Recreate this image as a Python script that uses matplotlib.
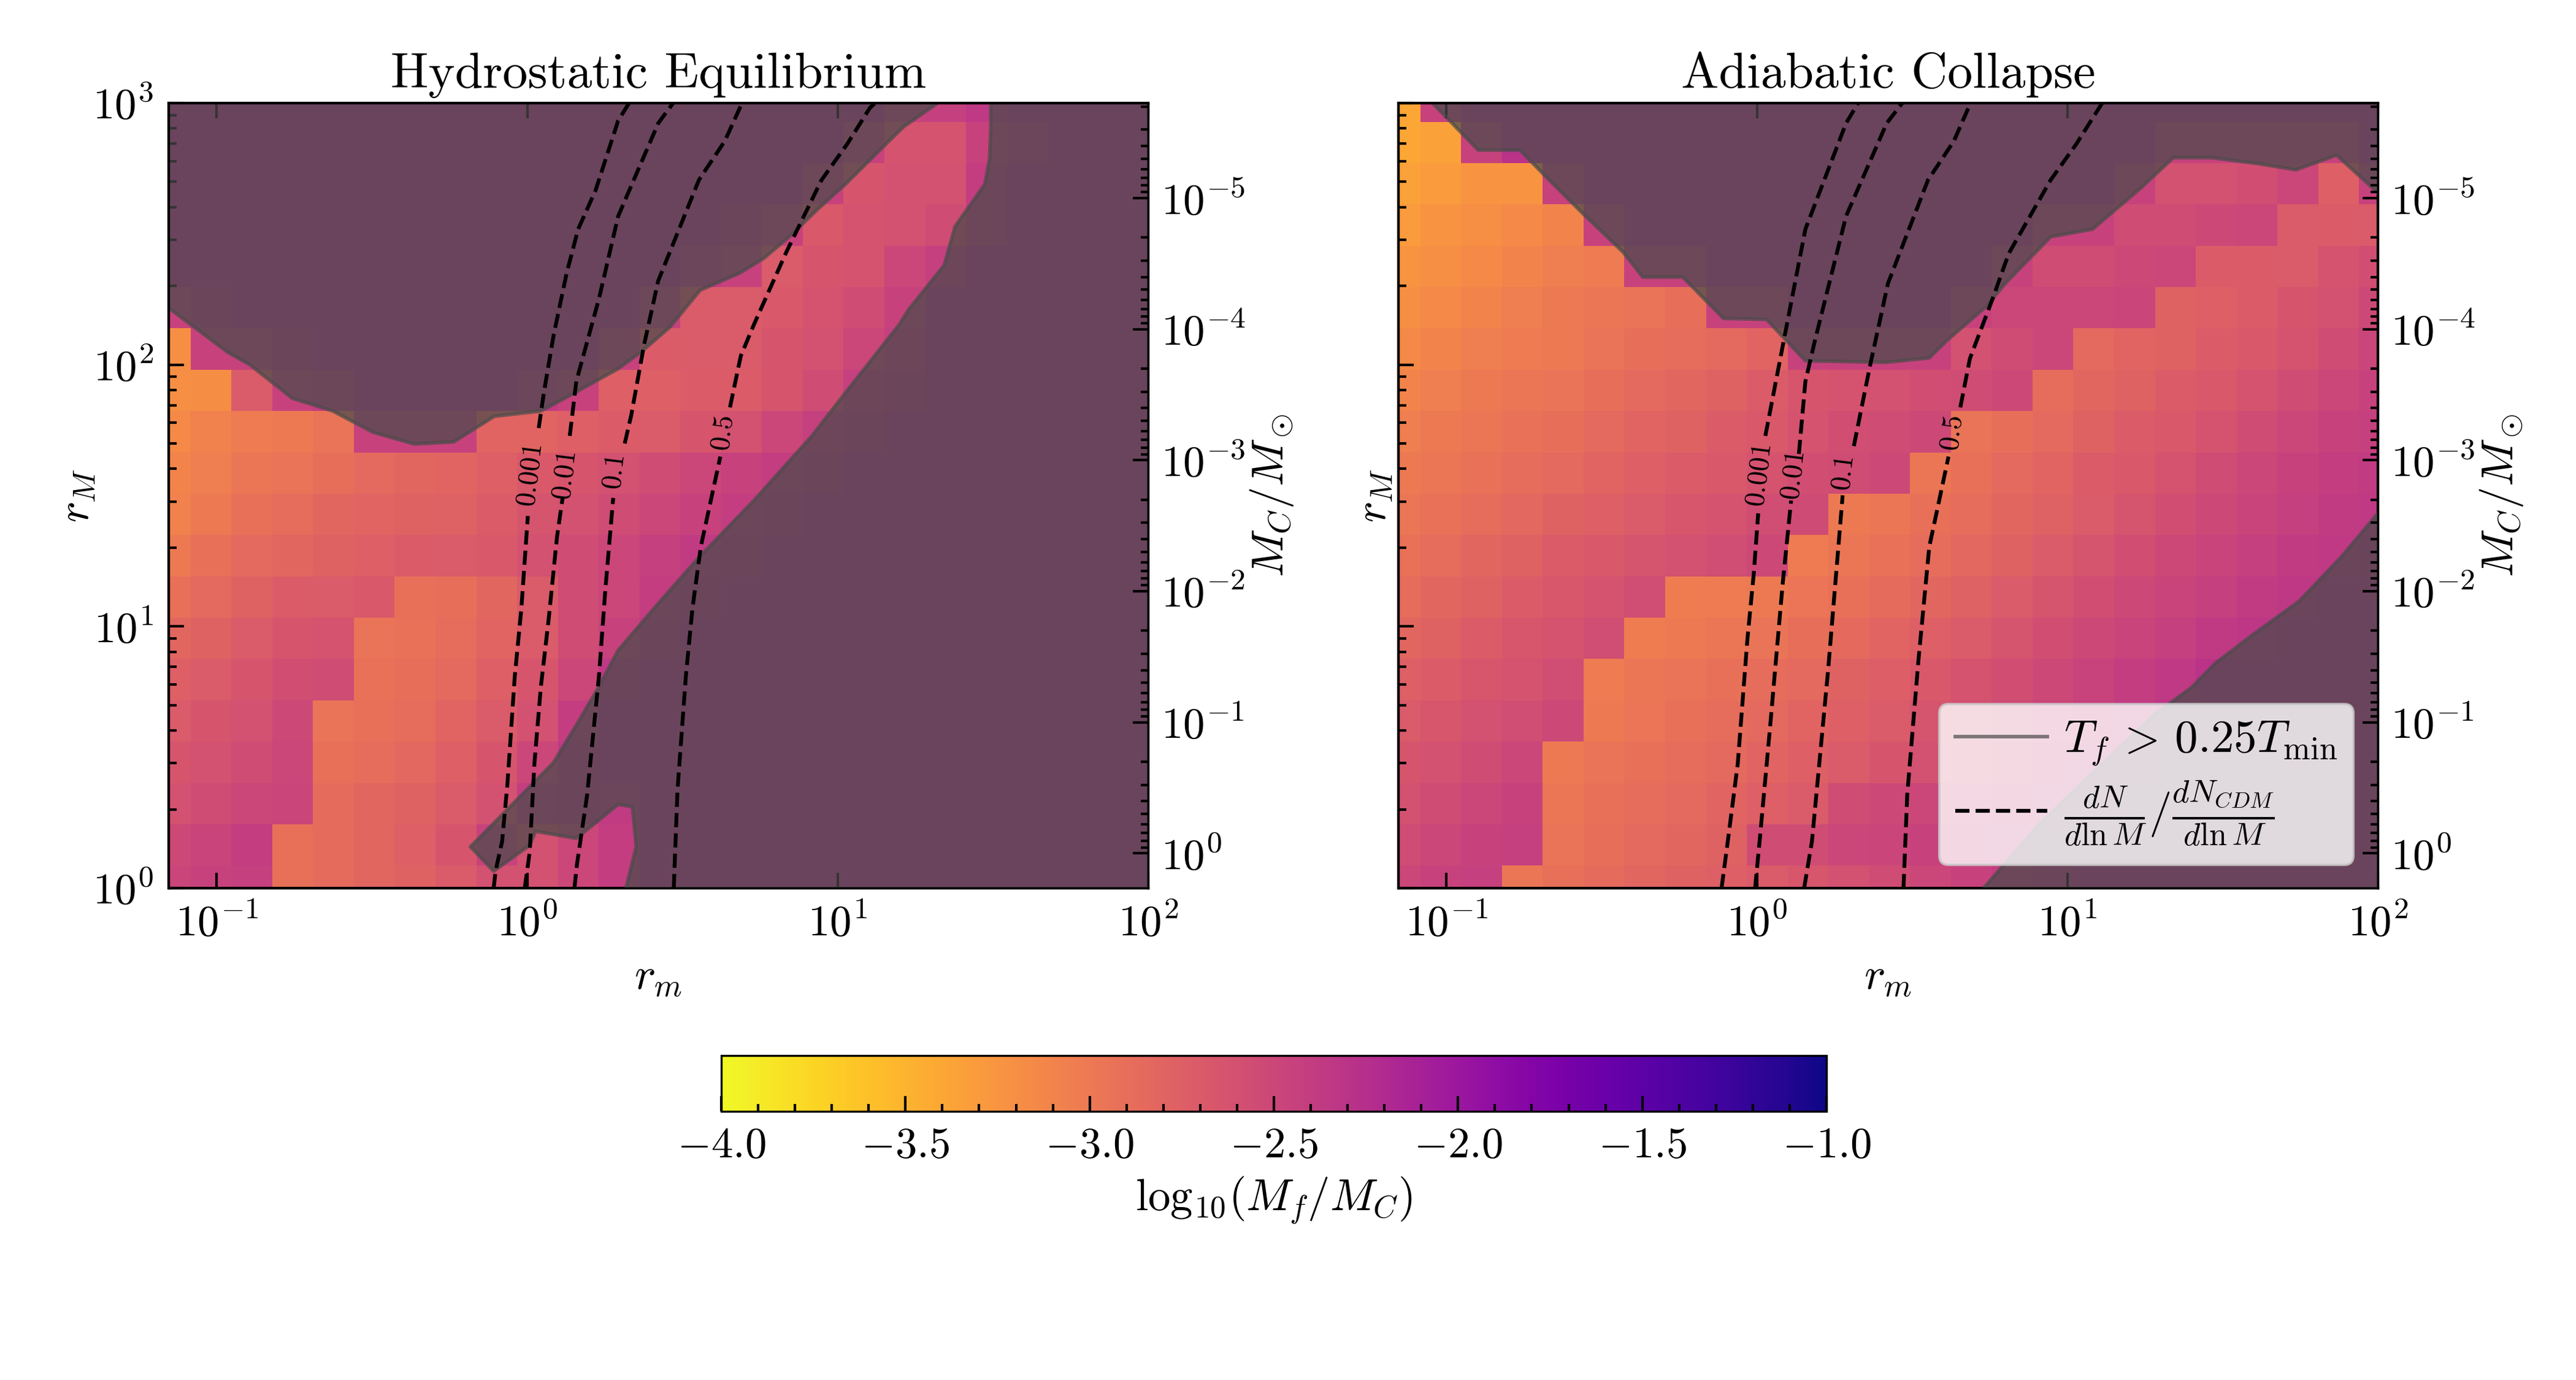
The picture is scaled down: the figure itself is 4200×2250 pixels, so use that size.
#!/usr/bin/env python
import numpy as np
import matplotlib
matplotlib.use('Agg')
import matplotlib.pyplot as plt
from matplotlib.lines import Line2D
from matplotlib.ticker import LogLocator, NullLocator, NullFormatter, MultipleLocator

plt.rcParams['font.family'] = ['cmr10', 'DejaVu Serif']
plt.rcParams['mathtext.fontset'] = 'cm'
plt.rcParams['axes.unicode_minus'] = False
plt.rcParams['axes.formatter.use_mathtext'] = True

# grid the mass fractions were sampled on
log_rm = np.linspace(np.log10(0.07), 2, 25)
log_rM = np.linspace(0, 3, 20)

# log10(M_f/M_C), top row (r_M = 1000) first
hydro_vals = [
    [-2.30,-2.30,-2.30,-2.30,-2.30,-2.30,-2.30,-2.30,-2.30,-2.30,-2.30,-2.30,-2.30,-2.30,-2.30,-2.30,-2.30,-2.30,-2.45,-2.42,-2.35,-2.30,-2.30,-2.30,-2.30],
    [-2.30,-2.30,-2.30,-2.30,-2.30,-2.30,-2.30,-2.30,-2.30,-2.30,-2.30,-2.30,-2.30,-2.30,-2.30,-2.30,-2.30,-2.45,-2.62,-2.62,-2.45,-2.38,-2.30,-2.30,-2.30],
    [-2.30,-2.30,-2.30,-2.30,-2.30,-2.30,-2.30,-2.30,-2.30,-2.30,-2.30,-2.30,-2.30,-2.30,-2.30,-2.30,-2.45,-2.65,-2.60,-2.60,-2.40,-2.30,-2.30,-2.30,-2.30],
    [-2.30,-2.30,-2.30,-2.30,-2.30,-2.30,-2.30,-2.30,-2.30,-2.30,-2.30,-2.30,-2.30,-2.30,-2.36,-2.45,-2.68,-2.62,-2.60,-2.55,-2.40,-2.30,-2.30,-2.30,-2.30],
    [-2.30,-2.30,-2.30,-2.30,-2.30,-2.30,-2.30,-2.30,-2.30,-2.30,-2.30,-2.30,-2.30,-2.38,-2.45,-2.70,-2.65,-2.62,-2.50,-2.42,-2.30,-2.30,-2.30,-2.30,-2.30],
    [-2.45,-2.36,-2.30,-2.30,-2.30,-2.30,-2.30,-2.30,-2.30,-2.30,-2.30,-2.30,-2.45,-2.70,-2.70,-2.68,-2.62,-2.55,-2.45,-2.30,-2.30,-2.30,-2.30,-2.30,-2.30],
    [-3.20,-2.45,-2.45,-2.36,-2.30,-2.30,-2.30,-2.30,-2.30,-2.30,-2.30,-2.45,-2.72,-2.70,-2.70,-2.65,-2.60,-2.50,-2.42,-2.30,-2.30,-2.30,-2.30,-2.30,-2.30],
    [-3.20,-3.18,-2.70,-2.45,-2.40,-2.30,-2.30,-2.30,-2.30,-2.38,-2.45,-2.75,-2.75,-2.72,-2.72,-2.65,-2.55,-2.42,-2.35,-2.30,-2.30,-2.30,-2.30,-2.30,-2.30],
    [-3.15,-3.08,-3.02,-3.00,-2.95,-2.45,-2.45,-2.45,-2.80,-2.80,-2.75,-2.72,-2.70,-2.65,-2.60,-2.50,-2.42,-2.35,-2.30,-2.30,-2.30,-2.30,-2.30,-2.30,-2.30],
    [-3.10,-3.05,-2.98,-2.95,-2.90,-2.85,-2.82,-2.80,-2.75,-2.68,-2.65,-2.60,-2.55,-2.50,-2.45,-2.40,-2.35,-2.30,-2.30,-2.30,-2.30,-2.30,-2.30,-2.30,-2.30],
    [-3.08,-3.00,-2.92,-2.88,-2.82,-2.80,-2.78,-2.76,-2.72,-2.64,-2.60,-2.55,-2.50,-2.45,-2.40,-2.35,-2.30,-2.30,-2.30,-2.30,-2.30,-2.30,-2.30,-2.30,-2.30],
    [-3.00,-2.92,-2.85,-2.82,-2.78,-2.75,-2.72,-2.70,-2.68,-2.60,-2.55,-2.50,-2.42,-2.38,-2.35,-2.30,-2.30,-2.30,-2.30,-2.30,-2.30,-2.30,-2.30,-2.30,-2.30],
    [-2.92,-2.85,-2.78,-2.72,-2.70,-2.68,-2.92,-2.90,-2.82,-2.70,-2.55,-2.50,-2.40,-2.35,-2.30,-2.30,-2.30,-2.30,-2.30,-2.30,-2.30,-2.30,-2.30,-2.30,-2.30],
    [-2.82,-2.78,-2.70,-2.65,-2.62,-2.95,-2.93,-2.88,-2.80,-2.70,-2.55,-2.45,-2.35,-2.30,-2.30,-2.30,-2.30,-2.30,-2.30,-2.30,-2.30,-2.30,-2.30,-2.30,-2.30],
    [-2.75,-2.70,-2.65,-2.58,-2.55,-2.93,-2.90,-2.85,-2.75,-2.65,-2.50,-2.35,-2.30,-2.30,-2.30,-2.30,-2.30,-2.30,-2.30,-2.30,-2.30,-2.30,-2.30,-2.30,-2.30],
    [-2.70,-2.65,-2.60,-2.52,-2.95,-2.92,-2.88,-2.80,-2.70,-2.60,-2.40,-2.30,-2.30,-2.30,-2.30,-2.30,-2.30,-2.30,-2.30,-2.30,-2.30,-2.30,-2.30,-2.30,-2.30],
    [-2.65,-2.60,-2.55,-2.50,-2.92,-2.88,-2.83,-2.75,-2.65,-2.50,-2.35,-2.30,-2.30,-2.30,-2.30,-2.30,-2.30,-2.30,-2.30,-2.30,-2.30,-2.30,-2.30,-2.30,-2.30],
    [-2.60,-2.55,-2.50,-2.48,-2.87,-2.82,-2.78,-2.70,-2.60,-2.40,-2.35,-2.38,-2.30,-2.30,-2.30,-2.30,-2.30,-2.30,-2.30,-2.30,-2.30,-2.30,-2.30,-2.30,-2.30],
    [-2.52,-2.47,-2.40,-2.92,-2.87,-2.82,-2.75,-2.65,-2.45,-2.60,-2.50,-2.40,-2.30,-2.30,-2.30,-2.30,-2.30,-2.30,-2.30,-2.30,-2.30,-2.30,-2.30,-2.30,-2.30],
    [-2.48,-2.45,-2.42,-2.92,-2.87,-2.82,-2.78,-2.70,-2.60,-2.60,-2.50,-2.40,-2.30,-2.30,-2.30,-2.30,-2.30,-2.30,-2.30,-2.30,-2.30,-2.30,-2.30,-2.30,-2.30],
]
adiabatic_vals = [
    [-3.40,-2.45,-2.30,-2.30,-2.30,-2.30,-2.30,-2.30,-2.30,-2.30,-2.30,-2.30,-2.30,-2.30,-2.30,-2.30,-2.30,-2.30,-2.30,-2.30,-2.30,-2.30,-2.30,-2.30,-2.30],
    [-3.40,-3.35,-2.45,-2.30,-2.30,-2.30,-2.30,-2.30,-2.30,-2.30,-2.30,-2.30,-2.30,-2.30,-2.30,-2.30,-2.30,-2.30,-2.30,-2.45,-2.45,-2.45,-2.45,-2.45,-2.30],
    [-3.35,-3.30,-3.25,-3.25,-2.45,-2.30,-2.30,-2.30,-2.30,-2.30,-2.30,-2.30,-2.30,-2.30,-2.30,-2.30,-2.30,-2.30,-2.45,-2.60,-2.60,-2.58,-2.50,-2.75,-2.45],
    [-3.30,-3.25,-3.20,-3.15,-3.10,-2.45,-2.30,-2.30,-2.30,-2.30,-2.30,-2.30,-2.30,-2.30,-2.30,-2.30,-2.45,-2.45,-2.55,-2.55,-2.52,-2.50,-2.70,-2.72,-2.70],
    [-3.25,-3.20,-3.15,-3.10,-3.05,-3.02,-2.45,-2.45,-2.30,-2.30,-2.30,-2.30,-2.30,-2.30,-2.30,-2.45,-2.55,-2.55,-2.52,-2.50,-2.72,-2.72,-2.70,-2.62,-2.58],
    [-3.20,-3.15,-3.10,-3.05,-3.00,-2.97,-2.95,-2.90,-2.45,-2.45,-2.30,-2.30,-2.30,-2.30,-2.45,-2.50,-2.50,-2.50,-2.48,-2.78,-2.75,-2.72,-2.65,-2.60,-2.52],
    [-3.15,-3.10,-3.05,-3.02,-3.00,-2.95,-2.90,-2.88,-2.85,-2.80,-2.45,-2.45,-2.45,-2.45,-2.60,-2.55,-2.50,-2.85,-2.80,-2.78,-2.72,-2.68,-2.62,-2.55,-2.48],
    [-3.10,-3.05,-3.00,-2.97,-2.95,-2.90,-2.85,-2.82,-2.78,-2.72,-2.65,-2.62,-2.60,-2.58,-2.55,-2.52,-2.88,-2.82,-2.78,-2.72,-2.68,-2.62,-2.55,-2.50,-2.45],
    [-3.05,-3.00,-2.97,-2.93,-2.90,-2.85,-2.80,-2.78,-2.72,-2.68,-2.62,-2.58,-2.55,-2.52,-2.95,-2.90,-2.85,-2.78,-2.72,-2.68,-2.62,-2.55,-2.50,-2.45,-2.42],
    [-3.00,-2.97,-2.93,-2.88,-2.85,-2.80,-2.75,-2.72,-2.68,-2.62,-2.58,-2.55,-2.52,-2.97,-2.92,-2.85,-2.80,-2.72,-2.68,-2.62,-2.55,-2.50,-2.45,-2.40,-2.38],
    [-2.97,-2.93,-2.88,-2.83,-2.78,-2.75,-2.70,-2.66,-2.62,-2.57,-2.54,-3.00,-2.98,-2.92,-2.88,-2.82,-2.76,-2.70,-2.64,-2.58,-2.52,-2.47,-2.42,-2.38,-2.35],
    [-2.93,-2.88,-2.82,-2.78,-2.72,-2.68,-2.64,-2.60,-2.56,-2.52,-3.02,-2.98,-2.93,-2.88,-2.83,-2.77,-2.70,-2.64,-2.58,-2.52,-2.47,-2.42,-2.38,-2.35,-2.32],
    [-2.88,-2.82,-2.78,-2.72,-2.67,-2.62,-2.56,-3.03,-3.02,-3.00,-2.96,-2.92,-2.87,-2.82,-2.76,-2.70,-2.64,-2.58,-2.52,-2.47,-2.42,-2.38,-2.34,-2.30,-2.30],
    [-2.82,-2.78,-2.72,-2.66,-2.62,-2.56,-3.03,-3.00,-2.97,-2.95,-2.90,-2.86,-2.80,-2.75,-2.70,-2.64,-2.58,-2.52,-2.47,-2.42,-2.37,-2.33,-2.30,-2.30,-2.30],
    [-2.75,-2.72,-2.66,-2.62,-2.56,-3.02,-2.98,-2.95,-2.92,-2.88,-2.84,-2.78,-2.74,-2.68,-2.62,-2.58,-2.52,-2.46,-2.40,-2.35,-2.30,-2.30,-2.30,-2.30,-2.30],
    [-2.70,-2.66,-2.60,-2.56,-2.52,-3.00,-2.96,-2.92,-2.88,-2.85,-2.80,-2.75,-2.70,-2.64,-2.58,-2.53,-2.47,-2.42,-2.37,-2.32,-2.30,-2.30,-2.30,-2.30,-2.30],
    [-2.65,-2.60,-2.55,-2.50,-3.00,-2.95,-2.92,-2.88,-2.84,-2.80,-2.75,-2.70,-2.65,-2.60,-2.55,-2.50,-2.45,-2.40,-2.35,-2.30,-2.30,-2.30,-2.30,-2.30,-2.30],
    [-2.60,-2.55,-2.50,-2.45,-2.97,-2.92,-2.88,-2.84,-2.80,-2.75,-2.70,-2.55,-2.52,-2.50,-2.47,-2.43,-2.40,-2.35,-2.30,-2.30,-2.30,-2.30,-2.30,-2.30,-2.30],
    [-2.55,-2.50,-2.45,-2.42,-2.95,-2.90,-2.85,-2.82,-2.78,-2.55,-2.55,-2.50,-2.48,-2.45,-2.42,-2.38,-2.33,-2.30,-2.30,-2.30,-2.30,-2.30,-2.30,-2.30,-2.30],
    [-2.50,-2.45,-2.42,-2.98,-2.92,-2.87,-2.82,-2.78,-2.75,-2.70,-2.66,-2.60,-2.55,-2.50,-2.45,-2.40,-2.35,-2.30,-2.30,-2.30,-2.30,-2.30,-2.30,-2.30,-2.30],
]

# T_f = 0.25 T_min boundaries, log10(r_m) and log10(r_M)
hydro_top_x = [-1.154,-1.083,-0.965,-0.892,-0.757,-0.626,-0.497,-0.364,-0.237,-0.106,0.044,0.158,0.293,0.366,0.459,0.557,0.684,0.761,0.844,0.938,1.025,1.156,1.212,1.322]
hydro_top_y = [2.216,2.153,2.048,1.999,1.872,1.823,1.742,1.697,1.705,1.803,1.823,1.896,1.985,2.048,2.143,2.285,2.350,2.406,2.489,2.597,2.690,2.844,2.909,3.0]
hydro_low_x = [1.493,1.493,1.489,1.474,1.378,1.343,1.229,1.198,1.027,0.917,0.730,0.553,0.418,0.293,0.231,0.168,0.085,-0.071,-0.183,-0.108,0.008,0.027,0.158,0.293,0.339,0.351,0.318]
hydro_low_y = [3.0,2.903,2.785,2.690,2.528,2.380,2.212,2.153,1.896,1.728,1.481,1.264,1.082,0.909,0.770,0.642,0.480,0.292,0.158,0.065,0.164,0.217,0.190,0.320,0.310,0.158,0.0]
adiab_top_x = [-1.046,-0.998,-0.898,-0.763,-0.686,-0.561,-0.430,-0.368,-0.239,-0.108,0.031,0.156,0.416,0.555,0.613,0.738,0.800,0.873,0.946,1.081,1.237,1.341,1.466,1.611,1.736,1.867,2.0]
adiab_top_y = [3.0,2.943,2.820,2.820,2.726,2.578,2.429,2.335,2.335,2.177,2.173,2.015,2.009,2.026,2.094,2.222,2.311,2.400,2.489,2.518,2.676,2.791,2.791,2.769,2.745,2.801,2.657]
adiab_low_x = [2.0,1.881,1.746,1.601,1.476,1.399,1.279,1.077,0.904,0.730]
adiab_low_y = [1.432,1.264,1.096,0.972,0.859,0.766,0.662,0.436,0.237,0.0]

# dN/dlnM ratio contours, nan marks the gap left for the label
hydro_contours = {
    '0.001': ([-0.108,-0.102,-0.081,-0.064,-0.040,-0.019,0.002,np.nan,0.037,0.054,0.085,0.127,0.164,0.220,0.293,0.328],
              [0,0.065,0.178,0.395,0.810,1.067,1.422,np.nan,1.758,1.896,2.113,2.350,2.518,2.666,2.933,3.0]),
    '0.01': ([-0.008,0.008,0.023,0.044,0.069,0.096,0.114,np.nan,0.137,0.158,0.231,0.293,0.422,0.470],
             [0,0.138,0.474,0.770,1.027,1.343,1.491,np.nan,1.728,1.936,2.252,2.568,2.923,3.0]),
    '0.1': ([0.152,0.160,0.193,0.231,0.252,0.277,np.nan,0.314,0.335,0.376,0.422,0.553,0.636,0.692],
            [0,0.089,0.356,0.810,1.146,1.491,np.nan,1.699,1.807,2.074,2.321,2.706,2.854,3.0]),
    '0.5': ([0.472,0.484,0.511,0.532,0.559,0.622,np.nan,0.653,0.688,0.730,0.834,0.948,1.031,1.104,1.121],
            [0,0.375,0.810,1.067,1.304,1.649,np.nan,1.837,2.034,2.153,2.429,2.706,2.844,2.982,3.0]),
}
adiab_contours = {
    '0.001': ([-0.114,-0.094,-0.062,-0.031,-0.010,0.004,np.nan,0.027,0.085,0.156,0.287,0.326],
              [0,0.178,0.474,0.948,1.205,1.432,np.nan,1.728,2.084,2.518,2.923,3.0]),
    '0.01': ([-0.006,0.010,0.042,0.083,0.110,np.nan,0.135,0.156,0.187,0.287,0.418,0.468],
             [0,0.198,0.612,1.165,1.481,np.nan,1.659,1.936,2.094,2.568,2.923,3.0]),
    '0.1': ([0.152,0.177,0.229,0.276,np.nan,0.312,0.364,0.422,0.551,0.634,0.688],
            [0,0.178,0.830,1.501,np.nan,1.689,1.995,2.311,2.706,2.854,3.0]),
    '0.5': ([0.472,0.484,0.520,0.555,0.617,np.nan,0.655,0.686,0.759,0.811,0.946,1.029,1.112],
            [0,0.356,0.869,1.304,1.649,np.nan,1.837,2.024,2.252,2.425,2.706,2.844,3.0]),
}
hydro_labels = {'0.001': (0.012, 1.576), '0.01': (0.123, 1.576), '0.1': (0.283, 1.590), '0.5': (0.632, 1.738)}
adiab_labels = {'0.001': (0.010, 1.576), '0.01': (0.119, 1.576), '0.1': (0.281, 1.584), '0.5': (0.630, 1.738)}

mc_ticks = [1e-5, 1e-4, 1e-3, 1e-2, 1e-1, 1e0]
cbar_ticks = [-4.0, -3.5, -3.0, -2.5, -2.0, -1.5, -1.0]

XLIM = (0.07, 100)
YLIM = (1, 1000)
MC_LIM = (1.84, 1.88e-6)
VMIN, VMAX = -4, -1
MASK_COLOR = '#4b4b4b'
TICK_FS = 17
LABEL_FS = 17.5


def draw_panel(ax, vals, top, low, low_corner, contours, labels, title, ylabel_x):
    mesh = ax.pcolormesh(10**log_rm, 10**log_rM, np.array(vals)[::-1], cmap='plasma_r',
                         vmin=VMIN, vmax=VMAX, shading='nearest', rasterized=True)
    ax.set_xscale('log')
    ax.set_yscale('log')
    ax.set_xlim(XLIM)
    ax.set_ylim(YLIM)

    # masked region where the final temperature is too low
    tx, ty = 10**np.array(top[0]), 10**np.array(top[1])
    lx, ly = 10**np.array(low[0]), 10**np.array(low[1])
    ax.fill(list(tx) + list(low_corner[0][0]), list(ty) + list(low_corner[0][1]),
            color=MASK_COLOR, alpha=0.72, lw=0, zorder=3)
    ax.fill(list(lx) + list(low_corner[1][0]), list(ly) + list(low_corner[1][1]),
            color=MASK_COLOR, alpha=0.72, lw=0, zorder=3)
    ax.plot(tx, ty, color=MASK_COLOR, alpha=0.7, lw=1.4, zorder=4)
    ax.plot(lx, ly, color=MASK_COLOR, alpha=0.7, lw=1.4, zorder=4)

    for name, (cx, cy) in contours.items():
        ax.plot(10**np.array(cx), 10**np.array(cy), color='k', ls='--', lw=1.5, zorder=5)
        lab = labels[name]
        ax.text(10**lab[0], 10**lab[1], '$' + name + '$', rotation=83, fontsize=11,
                ha='center', va='center', zorder=6)

    ax.set_title(title, fontsize=19.7, pad=6)
    ax.set_xlabel(r'$r_m$', fontsize=LABEL_FS, va='center')
    ax.set_ylabel(r'$r_M$', fontsize=LABEL_FS, va='center')
    ax.xaxis.set_label_coords(0.5, -0.115)
    ax.yaxis.set_label_coords(ylabel_x, 0.5)
    ax.xaxis.set_minor_locator(NullLocator())
    ax.yaxis.set_major_locator(LogLocator(base=10, numticks=6))
    ax.tick_params(which='both', direction='in', top=True, right=False, width=1.0)
    ax.tick_params(which='major', length=6, labelsize=TICK_FS, pad=6)
    ax.tick_params(which='minor', length=3)
    for s in ax.spines.values():
        s.set_linewidth(1.0)

    # halo mass axis, M_C follows r_M^-2
    twin = ax.twinx()
    twin.set_yscale('log')
    twin.set_ylim(MC_LIM)
    twin.set_yticks(mc_ticks)
    twin.yaxis.set_minor_locator(LogLocator(base=10, subs=np.arange(2, 10) * 0.1, numticks=12))
    twin.yaxis.set_minor_formatter(NullFormatter())
    twin.tick_params(which='both', direction='in', width=1.0)
    twin.tick_params(which='major', length=6, labelsize=TICK_FS, pad=5)
    twin.tick_params(which='minor', length=3)
    twin.set_ylabel(r'$M_C/M_\odot$', fontsize=LABEL_FS, va='center')
    twin.yaxis.set_label_coords(1.126, 0.5)
    return mesh


fig = plt.figure(figsize=(14, 7.5), dpi=300)
W, H = 4200.0, 2250.0
ax1 = fig.add_axes([275 / W, 1 - 1448 / H, 1597 / W, 1280 / H])
ax2 = fig.add_axes([2280 / W, 1 - 1448 / H, 1597 / W, 1280 / H])
cax = fig.add_axes([1176 / W, 1 - 1812 / H, 1802 / W, 91 / H])

top_corner = ([XLIM[0]], [YLIM[1]])
mesh = draw_panel(ax1, hydro_vals, (hydro_top_x, hydro_top_y), (hydro_low_x, hydro_low_y),
                  (top_corner, ([XLIM[1], XLIM[1]], [YLIM[0], YLIM[1]])),
                  hydro_contours, hydro_labels, 'Hydrostatic Equilibrium', -0.094)
draw_panel(ax2, adiabatic_vals, (adiab_top_x, adiab_top_y), (adiab_low_x, adiab_low_y),
           (([XLIM[1]], [YLIM[1]]), ([XLIM[1]], [YLIM[0]])),
           adiab_contours, adiab_labels, 'Adiabatic Collapse', -0.025)
ax2.tick_params(axis='y', which='both', labelleft=False)

handles = [Line2D([], [], color=MASK_COLOR, alpha=0.7, lw=1.4),
           Line2D([], [], color='k', ls='--', lw=1.5)]
names = [r'$T_f\,>\,0.25T_{\mathrm{min}}$',
         r'$\frac{dN}{d\ln M}/\frac{dN_{CDM}}{d\ln M}$']
leg = ax2.legend(handles, names, loc='lower right', fontsize=18, framealpha=0.8,
                 fancybox=True, bbox_to_anchor=(0.975, 0.03), borderaxespad=0,
                 handlelength=2.0, handletextpad=0.35, borderpad=0.35, labelspacing=0.25)
leg.set_zorder(10)

cbar = fig.colorbar(mesh, cax=cax, orientation='horizontal')
cbar.set_ticks(cbar_ticks)
cbar.set_ticklabels(['$%.1f$' % v for v in cbar_ticks])
cax.xaxis.set_minor_locator(MultipleLocator(0.1))
cax.tick_params(which='both', direction='in', width=1.0)
cax.tick_params(which='major', length=6, labelsize=TICK_FS, pad=6)
cax.tick_params(which='minor', length=3)
cbar.set_label(r'$\log_{10}\!(M_f/M_C)$', fontsize=LABEL_FS, va='center')
cax.xaxis.set_label_coords(0.5, -1.59)

fig.savefig('out.png', dpi=300)
